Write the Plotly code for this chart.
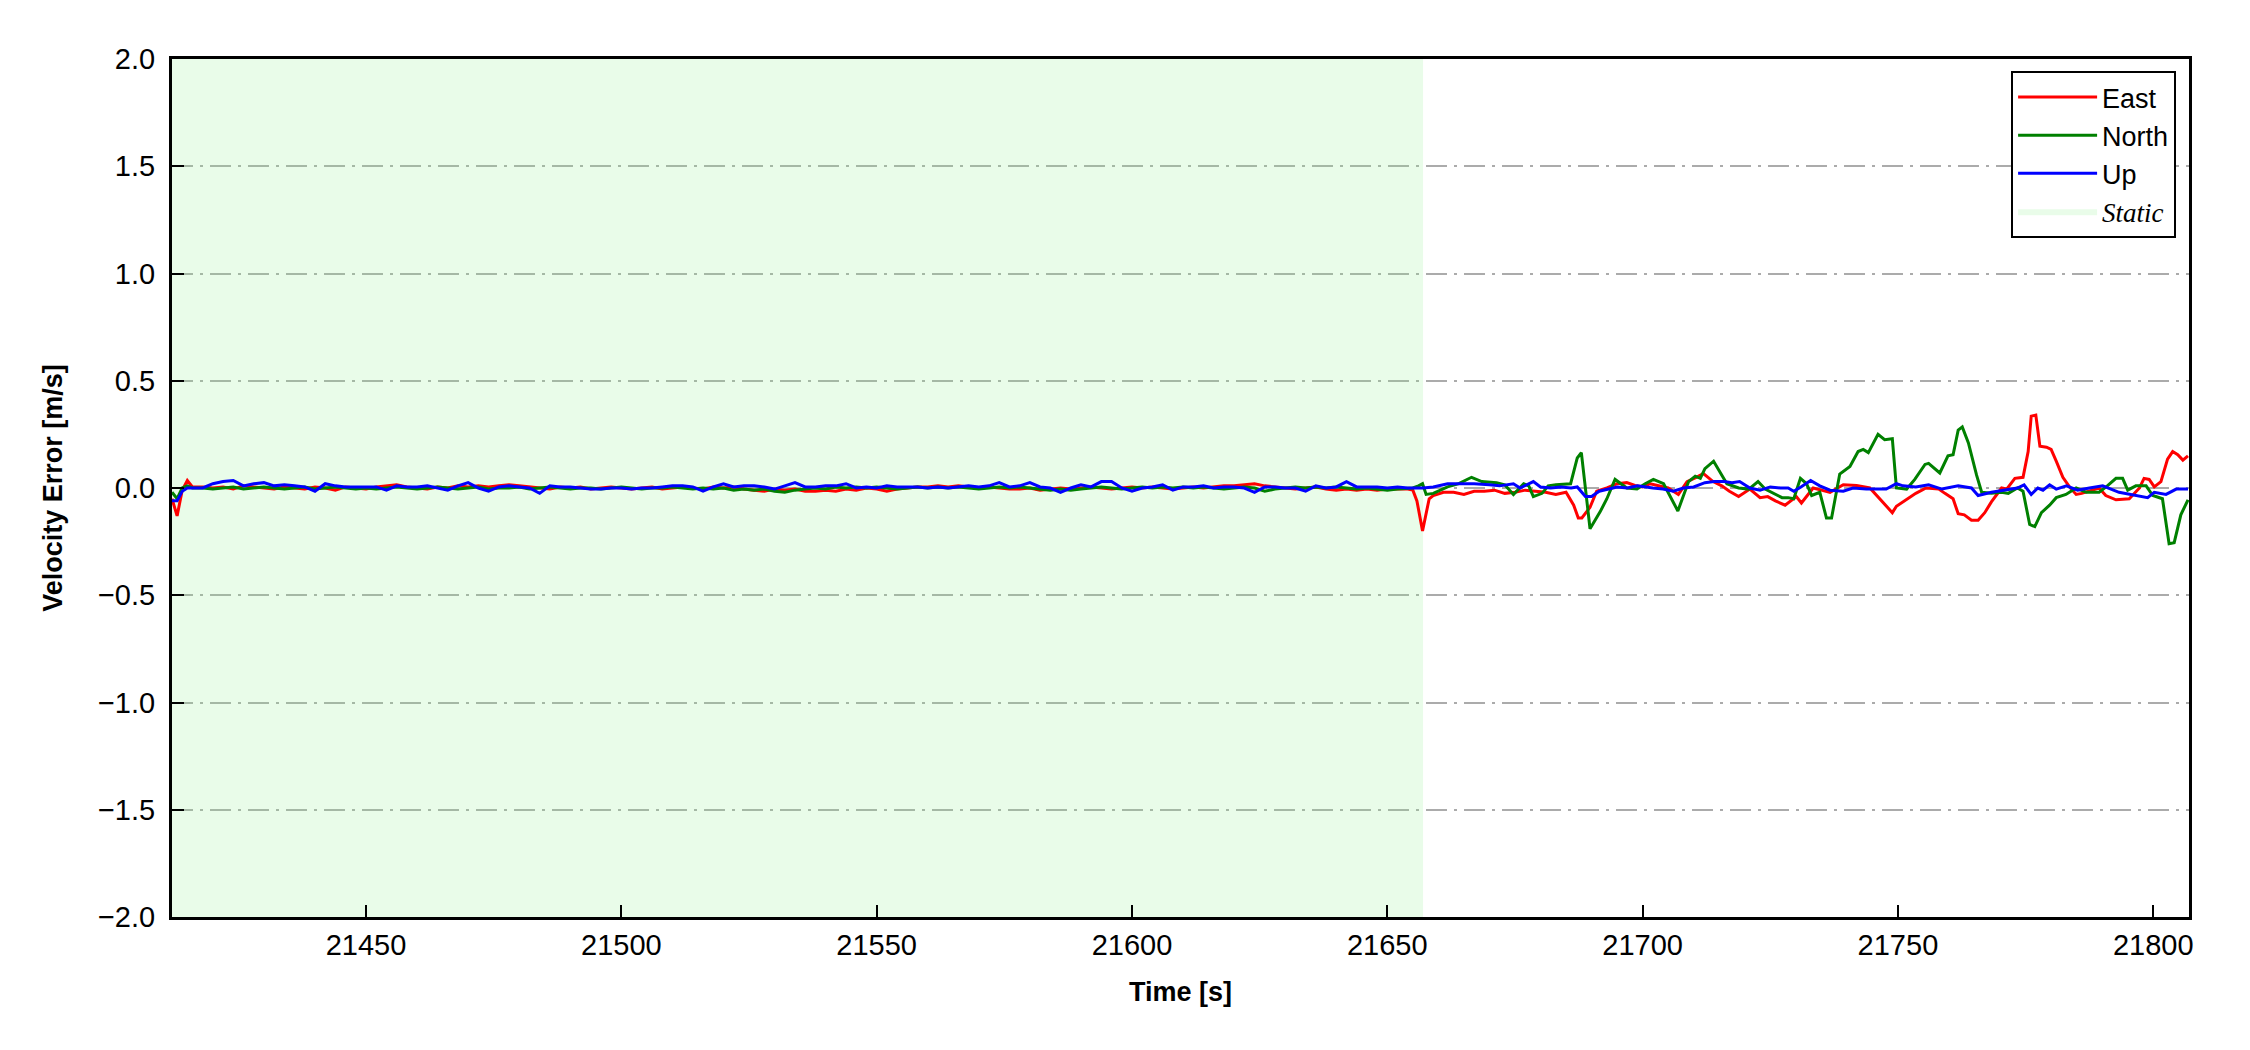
import plotly.graph_objects as go

# ---------------- data ----------------
# static (stationary) period, shared time stamps [s]
static_t = [21412, 21413, 21414, 21415, 21416,
            21418, 21420, 21422, 21424, 21426, 21428, 21430, 21432, 21434, 21436,
            21438, 21440, 21442, 21444, 21446, 21448, 21450, 21452, 21454, 21456,
            21458, 21460, 21462, 21464, 21466, 21468, 21470, 21472, 21474, 21476,
            21478, 21480, 21482, 21484, 21486, 21488, 21490, 21492, 21494, 21496,
            21498, 21500, 21502, 21504, 21506, 21508, 21510, 21512, 21514, 21516,
            21518, 21520, 21522, 21524, 21526, 21528, 21530, 21532, 21534, 21536,
            21538, 21540, 21542, 21544, 21546, 21548, 21550, 21552, 21554, 21556,
            21558, 21560, 21562, 21564, 21566, 21568, 21570, 21572, 21574, 21576,
            21578, 21580, 21582, 21584, 21586, 21588, 21590, 21592, 21594, 21596,
            21598, 21600, 21602, 21604, 21606, 21608, 21610, 21612, 21614, 21616,
            21618, 21620, 21622, 21624, 21626, 21628, 21630, 21632, 21634, 21636,
            21638, 21640, 21642, 21644, 21646, 21648, 21650, 21652, 21654]

east_static = [-0.05, -0.13, -0.01, 0.035, 0.005,
               0.005, 0.0, 0.005, -0.005, 0.01, 0.005, 0.0, -0.005, 0.005, 0.0,
               -0.005, 0.005, 0.0, -0.01, 0.005, 0.0, -0.005, 0.005, 0.01, 0.015,
               0.005, 0.0, -0.005, 0.005, 0.0, 0.01, 0.005, 0.01, 0.005, 0.01,
               0.015, 0.01, 0.005, 0.0, -0.005, 0.005, 0.0, 0.005, -0.005, 0.0,
               0.005, 0.0, -0.005, 0.0, 0.005, -0.005, 0.0, 0.005, 0.0, -0.005,
               0.005, 0.0, 0.005, -0.005, -0.01, -0.015, -0.005, -0.01, -0.005, -0.015,
               -0.015, -0.01, -0.015, -0.005, -0.01, 0.0, -0.005, -0.015, -0.005, 0.0,
               0.005, 0.005, 0.01, 0.005, 0.01, 0.005, 0.0, 0.005, 0.0, -0.005,
               -0.005, 0.0, -0.01, -0.005, 0.0, -0.005, 0.0, 0.005, 0.0, -0.005,
               0.0, 0.005, 0.0, 0.005, 0.0, -0.005, 0.0, 0.005, 0.0, 0.005,
               0.01, 0.01, 0.015, 0.02, 0.01, 0.005, 0.0, -0.005, 0.0, 0.005,
               -0.005, -0.01, -0.005, -0.01, -0.005, -0.01, -0.005, -0.005, -0.005]

north_static = [-0.02, -0.05, 0.0, 0.01, 0.0,
                0.0, -0.005, 0.0, 0.005, -0.005, 0.0, 0.005, 0.0, -0.005, 0.0,
                0.005, -0.005, 0.0, 0.005, 0.0, -0.005, 0.0, -0.005, 0.0, 0.005,
                0.0, -0.005, 0.0, 0.005, 0.0, -0.005, 0.0, 0.005, -0.005, 0.0,
                0.0, 0.005, -0.005, 0.0, 0.005, 0.0, -0.005, 0.0, 0.0, -0.005,
                0.0, 0.005, 0.0, -0.005, 0.0, 0.0, 0.005, 0.0, -0.005, 0.0,
                -0.005, 0.0, -0.01, -0.005, -0.01, -0.005, -0.015, -0.02, -0.01, -0.005,
                0.0, -0.005, 0.005, 0.0, 0.005, 0.0, 0.005, 0.0, -0.005, 0.0,
                0.005, 0.0, 0.005, 0.0, 0.005, 0.0, -0.005, 0.0, 0.005, 0.0,
                0.005, 0.0, -0.005, -0.01, -0.005, -0.01, -0.005, 0.0, 0.005, 0.0,
                -0.005, 0.0, 0.005, 0.0, 0.005, 0.0, 0.005, 0.0, 0.005, 0.0,
                -0.005, 0.0, 0.005, 0.0, -0.015, -0.005, 0.0, 0.005, 0.0, 0.005,
                0.0, 0.005, 0.0, -0.005, 0.0, -0.005, -0.01, -0.005, 0.0]

up_static = [-0.06, -0.06, -0.015, 0.0, 0.0,
             0.0, 0.02, 0.03, 0.035, 0.01, 0.02, 0.025, 0.01, 0.015, 0.01,
             0.005, -0.015, 0.02, 0.01, 0.005, 0.005, 0.005, 0.005, -0.01, 0.01,
             0.005, 0.005, 0.01, 0.0, -0.01, 0.01, 0.025, 0.0, -0.015, 0.005,
             0.01, 0.005, 0.0, -0.025, 0.01, 0.005, 0.005, 0.0, -0.005, -0.005,
             0.0, 0.0, -0.005, 0.0, 0.0, 0.005, 0.01, 0.01, 0.005, -0.015,
             0.005, 0.02, 0.005, 0.01, 0.01, 0.005, -0.005, 0.01, 0.025, 0.005,
             0.005, 0.01, 0.01, 0.02, 0.0, 0.005, 0.0, 0.01, 0.005, 0.005,
             0.005, 0.0, 0.005, 0.0, 0.005, 0.01, 0.005, 0.01, 0.025, 0.005,
             0.01, 0.025, 0.005, 0.0, -0.02, 0.0, 0.015, 0.005, 0.03, 0.03,
             0.0, -0.015, 0.0, 0.005, 0.015, -0.01, 0.005, 0.005, 0.01, 0.0,
             0.005, 0.005, 0.0, -0.02, 0.005, 0.005, 0.0, 0.0, -0.015, 0.01,
             0.0, 0.005, 0.03, 0.005, 0.005, 0.005, 0.0, 0.005, 0.0]

# kinematic period, per-series time stamps [s] and errors [m/s]
east_t = [21655, 21655.8, 21656.9, 21658.2, 21659, 21661, 21663, 21665, 21667, 21669,
          21671, 21673, 21675, 21677, 21679, 21681, 21683, 21685, 21686.5, 21687.4,
          21688.1, 21689.7, 21691, 21693, 21695, 21696.9, 21698.5, 21700, 21701.5, 21703,
          21705, 21707, 21708.7, 21710.5, 21711.9, 21713.8, 21715.5, 21717, 21718.8, 21721,
          21723, 21724.5, 21726, 21727.9, 21730.1, 21731.1, 21732.1, 21733.4, 21735, 21736.7,
          21739.3, 21741.9, 21744.5, 21746.5, 21748.9, 21749.7, 21751.5, 21753.5, 21755.5, 21758,
          21759.2, 21760.8, 21761.8, 21763, 21764.4, 21765.7, 21767, 21768.3, 21770.3, 21771.3,
          21772.9, 21774.5, 21775.5, 21776.1, 21777, 21777.8, 21779.1, 21780, 21781, 21782.3,
          21783.6, 21784.9, 21786, 21787.5, 21789.4, 21790.7, 21792.7, 21795.3, 21797.3, 21798.2,
          21799.2, 21800.2, 21801.5, 21802.8, 21803.8, 21804.8, 21805.8, 21806.8]
east_v = [-0.01, -0.06, -0.20, -0.05, -0.035, -0.02, -0.02, -0.03, -0.015, -0.015,
          -0.01, -0.025, -0.02, -0.01, -0.015, -0.02, -0.03, -0.02, -0.08, -0.14,
          -0.14, -0.09, -0.015, 0.0, 0.02, 0.025, 0.012, 0.005, 0.02, 0.01,
          0.0, -0.03, 0.03, 0.05, 0.067, 0.03, 0.01, -0.015, -0.04, -0.005,
          -0.045, -0.04, -0.06, -0.08, -0.04, -0.07, -0.04, 0.0, -0.01, -0.02,
          0.015, 0.012, 0.0, -0.05, -0.115, -0.085, -0.055, -0.025, 0.0, -0.005,
          -0.025, -0.05, -0.12, -0.125, -0.15, -0.15, -0.115, -0.065, 0.0, -0.005,
          0.045, 0.05, 0.17, 0.335, 0.34, 0.195, 0.19, 0.18, 0.125, 0.05,
          0.005, -0.03, -0.025, -0.015, 0.0, -0.035, -0.055, -0.05, 0.0, 0.045,
          0.04, 0.005, 0.03, 0.135, 0.17, 0.155, 0.13, 0.15]

north_t = [21655, 21656.1, 21656.9, 21657.6, 21659, 21661.8, 21664, 21666.5, 21668.5, 21671.4,
           21673, 21674.7, 21676.7, 21677.7, 21678.6, 21680.3, 21681.5, 21683, 21685.9, 21687.2,
           21688, 21689.7, 21690.7, 21691.7, 21693, 21694.6, 21696.9, 21698.9, 21700.5, 21702.1,
           21704.1, 21706.9, 21709, 21710.3, 21711.3, 21712.2, 21713.9, 21715.2, 21716.5, 21718.8,
           21720.8, 21722.6, 21724, 21727.3, 21728.5, 21729.6, 21730.9, 21732.1, 21733.1, 21734.7,
           21736, 21737, 21738.6, 21740.6, 21742.2, 21743.2, 21744.2, 21746.1, 21747.4, 21748.9,
           21749.7, 21751.7, 21753.3, 21755.3, 21756, 21758.2, 21759.8, 21760.8, 21761.8, 21762.6,
           21763.8, 21765.4, 21766.4, 21768.3, 21770.3, 21771.6, 21773.4, 21774.5, 21775.8, 21776.8,
           21778.1, 21779.7, 21781, 21782.9, 21784.9, 21786.9, 21789.4, 21791, 21792.7, 21794,
           21795, 21796.6, 21798.6, 21799.9, 21801.8, 21803.1, 21804.1, 21805.4, 21806.8]
north_v = [0.0, 0.01, 0.02, -0.03, -0.025, 0.005, 0.02, 0.05, 0.03, 0.025,
           0.015, -0.03, 0.02, 0.01, -0.04, -0.025, 0.01, 0.015, 0.02, 0.14,
           0.165, -0.19, -0.15, -0.11, -0.05, 0.04, 0.0, -0.005, 0.02, 0.04,
           0.02, -0.107, 0.03, 0.055, 0.045, 0.09, 0.125, 0.075, 0.02, 0.0,
           -0.005, 0.03, -0.005, -0.045, -0.045, -0.05, 0.045, 0.02, -0.035, -0.02,
           -0.14, -0.14, 0.065, 0.1, 0.17, 0.18, 0.165, 0.25, 0.225, 0.23,
           0.0, -0.005, 0.04, 0.11, 0.115, 0.07, 0.15, 0.155, 0.27, 0.285,
           0.21, 0.06, -0.02, -0.025, -0.02, -0.025, 0.0, -0.015, -0.17, -0.18,
           -0.115, -0.08, -0.045, -0.03, 0.0, -0.02, -0.02, 0.01, 0.045, 0.045,
           -0.01, 0.01, 0.01, -0.035, -0.05, -0.26, -0.255, -0.125, -0.055]

up_t = [21655, 21657, 21659, 21661.8, 21664, 21667, 21670, 21672, 21674.7, 21676,
        21678.6, 21680, 21682, 21684, 21686, 21687.2, 21688.8, 21690, 21691.5, 21693,
        21695, 21697, 21699, 21702, 21704, 21706, 21708, 21710, 21712.2, 21714,
        21716, 21717.5, 21719, 21721, 21723, 21725, 21727, 21728.5, 21729.6, 21731,
        21732.9, 21734.7, 21736.7, 21739.3, 21741.2, 21743.8, 21747.7, 21749.7, 21751, 21753.5,
        21756, 21758.6, 21761.8, 21764.4, 21765.7, 21768.3, 21770.9, 21773.4, 21774.7, 21776.1,
        21777.4, 21778.4, 21779.7, 21781, 21783, 21785.2, 21787.5, 21790.1, 21793.3, 21795.9,
        21798.9, 21800.2, 21802.5, 21804.5, 21806.8]
up_v = [0.0, 0.0, 0.005, 0.02, 0.02, 0.02, 0.015, 0.01, 0.02, 0.0,
        0.03, 0.005, 0.0, 0.005, 0.0, 0.005, -0.04, -0.04, -0.015, -0.005,
        0.005, 0.0, 0.01, 0.0, -0.005, -0.015, 0.0, 0.005, 0.025, 0.03,
        0.03, 0.025, 0.03, 0.0, -0.01, 0.005, 0.0, 0.0, -0.015, 0.005,
        0.035, 0.01, -0.01, -0.015, 0.0, -0.005, -0.005, 0.02, 0.01, 0.005,
        0.015, -0.005, 0.01, 0.0, -0.035, -0.02, -0.01, 0.0, 0.015, -0.03,
        0.0, -0.01, 0.015, -0.005, 0.01, -0.01, 0.0, 0.01, -0.02, -0.03,
        -0.045, -0.02, -0.03, -0.005, -0.005]

static_interval = [21412, 21657]
x_range = [21412, 21807]
y_range = [-2.0, 2.0]
x_ticks = [21450, 21500, 21550, 21600, 21650, 21700, 21750, 21800]
y_ticks = [-2.0, -1.5, -1.0, -0.5, 0.0, 0.5, 1.0, 1.5, 2.0]
y_ticklabels = ["\u22122.0", "\u22121.5", "\u22121.0", "\u22120.5", "0.0", "0.5", "1.0", "1.5", "2.0"]

# ---------------- figure ----------------
SANS = "Arial, Liberation Sans, sans-serif"
fig = go.Figure()

# static period shading (drawn first, under the lines)
a, b = static_interval
fig.add_trace(go.Scatter(
    x=[a, b, b, a, a], y=[y_range[0], y_range[0], y_range[1], y_range[1], y_range[0]],
    mode="lines", fill="toself", fillcolor="rgba(144,238,144,0.2)",
    line=dict(width=0, color="rgba(0,0,0,0)"), hoverinfo="skip",
    name="<span style='font-family:Liberation Serif, Times New Roman, serif'><i>Static</i></span>",
    legendrank=4))

series = [("East", "#ff0000", east_static, east_t, east_v),
          ("North", "#008000", north_static, north_t, north_v),
          ("Up", "#0000ff", up_static, up_t, up_v)]
for rank, (name, color, sv, dt, dv) in enumerate(series, start=1):
    fig.add_trace(go.Scatter(
        x=static_t + dt, y=sv + dv, mode="lines", name=name,
        line=dict(color=color, width=3), legendrank=rank))

fig.update_layout(
    width=2250, height=1050,
    margin=dict(l=164, r=69, t=51, b=141),
    paper_bgcolor="white", plot_bgcolor="white",
    font=dict(family=SANS, size=29, color="black"),
    showlegend=True,
    legend=dict(
        x=0.9936, y=0.986, xanchor="right", yanchor="top",
        bgcolor="white", bordercolor="black", borderwidth=2,
        font=dict(family=SANS, size=27, color="black"),
        tracegroupgap=0, itemwidth=79,
    ),
)

fig.update_xaxes(
    range=x_range, tickvals=x_ticks, tickformat="d",
    ticks="inside", ticklen=12, tickwidth=2, tickcolor="black",
    showline=True, linecolor="black", linewidth=3, mirror=True,
    showgrid=False, zeroline=False,
    tickfont=dict(family=SANS, size=29, color="black"),
    ticklabelstandoff=0,
    title=dict(text="<b>Time [s]</b>", font=dict(family=SANS, size=27, color="black"), standoff=23),
)
fig.update_yaxes(
    range=y_range, tickvals=y_ticks, ticktext=y_ticklabels,
    ticks="inside", ticklen=12, tickwidth=2, tickcolor="black",
    showline=True, linecolor="black", linewidth=3, mirror=True,
    showgrid=True, gridcolor="#ababab", gridwidth=2, griddash="21px,7px,3px,7px",
    zeroline=False,
    tickfont=dict(family=SANS, size=29, color="black"),
    ticklabelstandoff=8,
    title=dict(text="<b>Velocity Error [m/s]</b>", font=dict(family=SANS, size=27, color="black"), standoff=28),
)

fig.write_html("out.html")
